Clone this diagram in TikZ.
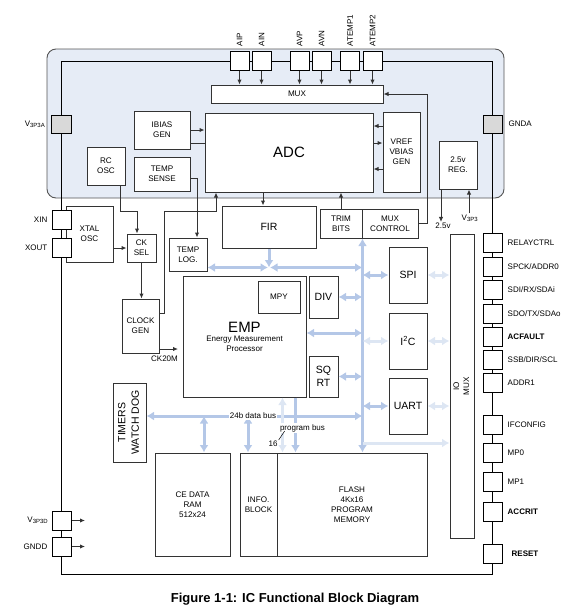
\documentclass[tikz,border=0pt]{standalone}
\usepackage{fontspec}
\setmainfont{Liberation Sans}
\usepackage{xcolor}
\definecolor{lineDark}{HTML}{333333}
\definecolor{analogFill}{HTML}{E6ECF6}
\definecolor{analogEdge}{HTML}{555555}
\definecolor{busBlue}{HTML}{B4C7E7}
\definecolor{busPale}{HTML}{DDE6F3}
\definecolor{padGray}{HTML}{D9D9D9}
\usepackage{tikz}
\usetikzlibrary{
    arrows.meta,
    positioning,
    calc
}
\tikzset{
    % Base style for all blocks
    blk/.style 2 args={
        draw=lineDark,
        fill=white,
        line width=1pt,
        minimum width=#1pt,
        minimum height=#2pt,
        inner sep=0pt,
        align=center,
        font=\fontsize{8.1}{10}\selectfont,
    },
    % Larger block captions
    bigtext/.style={font=\fontsize{10.5}{13}\selectfont},
    hugetext/.style={font=\fontsize{15}{17}\selectfont},
    % Analog area and chip outline
    analog/.style={
        fill=analogFill,
        draw=analogEdge,
        line width=0.9pt,
        rounded corners=9pt,
    },
    outline/.style={draw=black, line width=1pt},
    % Pads on the chip edge
    padbox/.style={
        draw=black,
        fill=white,
        line width=1pt,
        minimum size=19pt,
        inner sep=0pt,
    },
    padgray/.style={padbox, fill=padGray},
    padtxt/.style={font=\fontsize{8}{9.5}\selectfont, inner sep=0pt},
    % Thin signal lines
    sig/.style={
        draw=lineDark,
        line width=1pt,
        >={Latex[length=5pt, width=4.5pt]},
    },
    % Wide bus arrows
    bus/.style={
        draw=busBlue,
        line width=3pt,
        >={Latex[length=7.5pt, width=9pt]},
    },
    bus pale/.style={bus, draw=busPale},
    % Bus annotations
    note/.style={font=\fontsize{8}{9.5}\selectfont, inner sep=1pt},
}

\begin{document}
\begin{tikzpicture}[x=1pt, y=-1pt]
    \useasboundingbox (0,0) rectangle (573,614);

    % analog section and chip edge
    \draw[analog] (47,49) rectangle (504,198);
    \draw[outline] (61,61) rectangle (492,574);

    % analog blocks
    \node (mux) [blk={172}{18}] at (297,94) {MUX};
    \node (adc) [blk={168}{79}, hugetext] at (289,152.5) {ADC};
    \node (vref) [blk={37}{80}] at (401.5,152) {VREF\\VBIAS\\GEN};
    \node (ibias) [blk={56}{38}] at (162,130) {IBIAS\\GEN};
    \node (tsense) [blk={56}{34}] at (162,174) {TEMP\\SENSE};
    \node (rcosc) [blk={38}{38}] at (106,166) {RC\\OSC};
    \node (reg) [blk={38}{48}] at (458,165) {2.5v\\REG.};

    % clock and front end blocks
    \node (fir) [blk={94}{42}, font=\fontsize{10.5}{12}\selectfont] at (269,227) {FIR};
    \node (trim) [blk={42}{29}] at (341,223.5) {TRIM\\BITS};
    \node (muxctl) [blk={56}{29}] at (390,223.5) {MUX\\CONTROL};
    \node (xtal) [blk={47}{56}] at (89.5,234) {XTAL\\OSC};
    \node (cksel) [blk={29}{28}] at (141.5,248) {CK\\SEL};
    \node (templog) [blk={38}{33}] at (188,254.5) {TEMP\\LOG.};
    \node (clockgen) [blk={37}{54}] at (140.5,326) {CLOCK\\GEN};

    % digital blocks
    \node (emp) [blk={123}{121}] at (244.5,336.5) {\fontsize{15}{17}\selectfont EMP\\[-1pt]\fontsize{8}{9.5}\selectfont Energy Measurement\\Processor};
    \node (mpy) [blk={42}{32}] at (279,297) {MPY};
    \node (div) [blk={29}{42}, bigtext] at (323.5,297) {DIV};
    \node (sqrt) [blk={29}{41}, bigtext] at (323.5,376.5) {SQ\\RT};
    \node (spi) [blk={38}{56}, bigtext] at (408,275) {SPI};
    \node (i2c) [blk={38}{56}, bigtext] at (408,341) {I\textsuperscript{2}C};
    \node (uart) [blk={38}{56}, bigtext] at (408,406) {UART};
    \node (iomux) [blk={24}{304}] at (462,386) {\rotatebox{90}{\begin{tabular}{@{}c@{}}IO\\MUX\end{tabular}}};
    \node (timers) [blk={33}{79}, font=\fontsize{10.5}{13.5}\selectfont] at (129.5,422.5) {\rotatebox{90}{\begin{tabular}{@{}c@{}}TIMERS\\WATCH DOG\end{tabular}}};
    \node (ram) [blk={75}{103}] at (192.5,504.5) {CE DATA\\RAM\\512x24};
    \node (info) [blk={37}{103}] at (258.5,504.5) {INFO.\\BLOCK};
    \node (flash) [blk={150}{103}] at (352,504.5) {FLASH\\4Kx16\\PROGRAM\\MEMORY};

    % pads, left side
    \node (v3p3a) [padgray, minimum width=20pt, minimum height=18pt] at (61,124) {};
    \node (xin) [padbox] at (61.5,219.5) {};
    \node (xout) [padbox] at (61.5,248) {};
    \node (v3p3d) [padbox] at (61.5,520.5) {};
    \node (gndd) [padbox] at (61.5,546.5) {};
    \node (v3p3albl) [padtxt, anchor=east] at ([xshift=-5pt]v3p3a.west) {V\textsubscript{3P3A}};
    \node (xinlbl) [padtxt, anchor=east] at ([xshift=-4pt]xin.west) {XIN};
    \node (xoutlbl) [padtxt, anchor=east] at ([xshift=-4pt]xout.west) {XOUT};
    \node (v3p3dlbl) [padtxt, anchor=east] at ([xshift=-3pt]v3p3d.west) {V\textsubscript{3P3D}};
    \node (gnddlbl) [padtxt, anchor=east] at ([xshift=-4pt]gndd.west) {GNDD};

    % pads, top
    \node (aip) [padbox] at (239.5,60.5) {};
    \node (ain) [padbox] at (261.5,60.5) {};
    \node (avp) [padbox] at (299.5,60.5) {};
    \node (avn) [padbox] at (321.5,60.5) {};
    \node (atemp1) [padbox] at (350,60.5) {};
    \node (atemp2) [padbox] at (372.5,60.5) {};
    \node (aiplbl) [padtxt, rotate=90, anchor=west] at ([yshift=4pt]aip.north) {AIP};
    \node (ainlbl) [padtxt, rotate=90, anchor=west] at ([yshift=4pt]ain.north) {AIN};
    \node (avplbl) [padtxt, rotate=90, anchor=west] at ([yshift=4pt]avp.north) {AVP};
    \node (avnlbl) [padtxt, rotate=90, anchor=west] at ([yshift=4pt]avn.north) {AVN};
    \node (atemp1lbl) [padtxt, rotate=90, anchor=west] at ([yshift=4pt]atemp1.north) {ATEMP1};
    \node (atemp2lbl) [padtxt, rotate=90, anchor=west] at ([yshift=4pt]atemp2.north) {ATEMP2};

    % pads, right side
    \node (gnda) [padgray, minimum height=18pt] at (492.5,124) {};
    \node (gndalbl) [padtxt, anchor=west] at ([xshift=6pt]gnda.east) {GNDA};
    \node (relay) [padbox] at (492.5,242.5) {};
    \node (spck) [padbox] at (492.5,266.5) {};
    \node (sdi) [padbox] at (492.5,289.5) {};
    \node (sdo) [padbox] at (492.5,313.5) {};
    \node (acfault) [padbox] at (492.5,336.5) {};
    \node (ssb) [padbox] at (492.5,360) {};
    \node (addr1) [padbox] at (492.5,382.5) {};
    \node (ifconfig) [padbox] at (492.5,424.5) {};
    \node (mp0) [padbox] at (492.5,452.5) {};
    \node (mp1) [padbox] at (492.5,481.5) {};
    \node (accrit) [padbox] at (492.5,511.5) {};
    \node (reset) [padbox] at (492.5,553.5) {};
    \node (relaylbl) [padtxt, anchor=west] at ([xshift=5pt]relay.east) {RELAYCTRL};
    \node (spcklbl) [padtxt, anchor=west] at ([xshift=5pt]spck.east) {SPCK/ADDR0};
    \node (sdilbl) [padtxt, anchor=west] at ([xshift=5pt]sdi.east) {SDI/RX/SDAi};
    \node (sdolbl) [padtxt, anchor=west] at ([xshift=5pt]sdo.east) {SDO/TX/SDAo};
    \node (acfaultlbl) [padtxt, anchor=west, font=\fontsize{8}{9.5}\selectfont\bfseries] at ([xshift=5pt]acfault.east) {ACFAULT};
    \node (ssblbl) [padtxt, anchor=west] at ([xshift=5pt]ssb.east) {SSB/DIR/SCL};
    \node (addr1lbl) [padtxt, anchor=west] at ([xshift=5pt]addr1.east) {ADDR1};
    \node (ifconfiglbl) [padtxt, anchor=west] at ([xshift=5pt]ifconfig.east) {IFCONFIG};
    \node (mp0lbl) [padtxt, anchor=west] at ([xshift=5pt]mp0.east) {MP0};
    \node (mp1lbl) [padtxt, anchor=west] at ([xshift=5pt]mp1.east) {MP1};
    \node (accritlbl) [padtxt, anchor=west, font=\fontsize{8}{9.5}\selectfont\bfseries] at ([xshift=5pt]accrit.east) {ACCRIT};
    \node (resetlbl) [padtxt, anchor=west, font=\fontsize{8}{9.5}\selectfont\bfseries] at ([xshift=9pt]reset.east) {RESET};

    % free ends and bends
    \coordinate (ck20m) at (178,349);
    \coordinate (ckturn) at (216,211);
    \coordinate (vdout) at (85,520.5);
    \coordinate (gdout) at (85,546.5);
    \coordinate (busx) at (trim.south east);
    \coordinate (dbus) at (0,416);
    \coordinate (iolink) at (0,443);
    \coordinate (firjct) at ([yshift=-19pt]fir.south);
    \node (v25lbl) [note] at (443,226) {2.5v};
    \node (v3p3lbl) [note] at (470,218) {V\textsubscript{3P3}};
    \node (ck20mlbl) [note] at (164.5,359) {CK20M};

    % analog signals
    \draw[sig,->] (aip.south) -- (aip.south |- mux.north);
    \draw[sig,->] (ain.south) -- (ain.south |- mux.north);
    \draw[sig,->] (avp.south) -- (avp.south |- mux.north);
    \draw[sig,->] (avn.south) -- (avn.south |- mux.north);
    \draw[sig,->] (atemp1.south) -- (atemp1.south |- mux.north);
    \draw[sig,->] (atemp2.south) -- (atemp2.south |- mux.north);
    \draw[sig,->] (ibias.east) -- (ibias.east -| adc.west);
    \draw[sig] ([yshift=-13pt]ibias.east) -- ([yshift=-13pt]ibias.east -| adc.west);
    \draw[sig,->] ([yshift=26pt]vref.west) -- ([yshift=26pt]vref.west -| adc.east);
    \draw[sig,->] ([yshift=9pt]vref.west -| adc.east) -- ([yshift=9pt]vref.west);
    \draw[sig,->] ([yshift=-17pt]vref.west) -- ([yshift=-17pt]vref.west -| adc.east);
    \draw[sig,->] (muxctl.east) -- ++(9,0) |- (mux.east);
    \draw[sig,->] (adc.south -| fir.north) ++(-6,0) -- ([xshift=-6pt]fir.north);
    \draw[sig,->] (trim.north) -- (trim.north |- adc.south);
    \draw[sig,->] ([yshift=-4pt]tsense.east) -| ([xshift=9pt]templog.north);
    \draw[sig,->] ([xshift=14pt]rcosc.south) -- ++(0,26) -| ([xshift=-4.5pt]cksel.north);
    \draw[sig,->] (xtal.east |- cksel.west) -- (cksel.west);
    \draw[sig,->] (cksel.south) -- (cksel.south |- clockgen.north);
    \draw[sig,->] ([yshift=13pt]clockgen.east) -- ++(5,0) |- (ckturn) -- (ckturn |- adc.south);
    \draw[sig,->] (clockgen.east |- ck20m) -- (ck20m);
    \draw[sig,->] ([xshift=-17pt]reg.south) -- ([xshift=-17pt]reg.south |- v25lbl.north);
    \draw[sig,->] ([xshift=11pt]reg.south |- v3p3lbl.north) -- ([xshift=11pt]reg.south);
    \draw[sig,->] (v3p3d.east) -- (vdout);
    \draw[sig,->] (gndd.east) -- (gdout);

    % digital buses
    \draw[bus,->] (fir.south) -- (firjct);
    \draw[bus,<->] (templog.east |- firjct) -- ([xshift=-1pt]firjct);
    \draw[bus,<->] ([xshift=1pt]firjct) -- (busx |- firjct);
    \draw[bus,<->] (busx) -- (busx |- flash.north);
    \draw[bus,<->] (div.east) -- (div.east -| busx);
    \draw[bus,<->] ([yshift=3.5pt]emp.east) -- ([yshift=3.5pt]emp.east -| busx);
    \draw[bus,<->] (sqrt.east) -- (sqrt.east -| busx);
    \draw[bus,<->] (spi.west -| busx) -- (spi.west);
    \draw[bus pale,<->] (i2c.west -| busx) -- (i2c.west);
    \draw[bus,<->] (uart.west -| busx) -- (uart.west);
    \draw[bus pale,<->] (spi.east) -- (spi.east -| iomux.west);
    \draw[bus pale,<->] (i2c.east) -- (i2c.east -| iomux.west);
    \draw[bus pale,<->] (uart.east) -- (uart.east -| iomux.west);
    \draw[bus pale,->] (busx |- iolink) -- (iomux.west |- iolink);
    \draw[bus,<->] (timers.east |- dbus) -- (busx |- dbus);
    \draw[bus,<->] ([xshift=11.5pt]ram.north |- dbus) -- ([xshift=11.5pt]ram.north);
    \draw[bus,<->] ([xshift=-10.5pt]info.north |- dbus) -- ([xshift=-10.5pt]info.north);
    \draw[bus pale,<->] ([xshift=6pt]flash.north west |- emp.south) -- ([xshift=6pt]flash.north west);
    \draw[bus,->] ([xshift=19pt]flash.north west |- emp.south) -- ([xshift=19pt]flash.north west);

    % bus notes
    \node (dbuslbl) [note, fill=white] at (253,416) {24b data bus};
    \node (pbuslbl) [note, fill=white] at (302.5,428) {program bus};
    \node (n16) [note] at (273,444) {16};
    \draw[line width=0.5pt] (n16.north east) -- ++(6,-9);

    % caption
    \node (caption) [font=\fontsize{13}{15}\selectfont\bfseries] at (295,599) {Figure 1-1: IC Functional Block Diagram};
\end{tikzpicture}
\end{document}
